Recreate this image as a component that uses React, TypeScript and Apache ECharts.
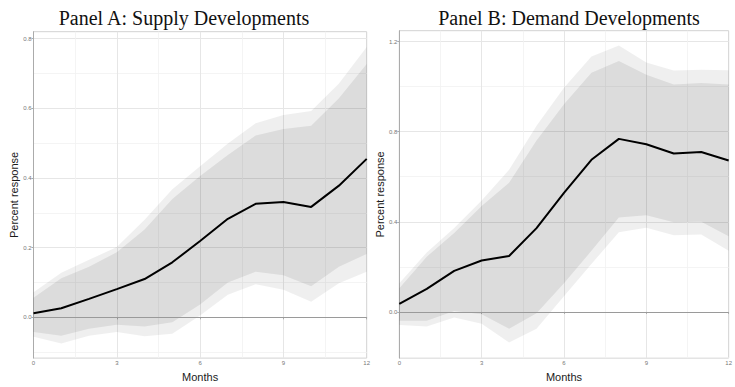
import React, { useEffect, useRef } from "react";
import * as echarts from "echarts";

// Horizon in months
const months = [0, 1, 2, 3, 4, 5, 6, 7, 8, 9, 10, 11, 12];

// Panel A: impulse response to supply developments, with 68% and 90% bands
const supplyIrf = [0.012, 0.026, 0.053, 0.081, 0.11, 0.158, 0.219, 0.283, 0.326, 0.331, 0.317, 0.378, 0.455];
const supplyUpper90 = [0.072, 0.128, 0.165, 0.202, 0.28, 0.368, 0.434, 0.499, 0.557, 0.581, 0.592, 0.671, 0.776];
const supplyUpper68 = [0.056, 0.112, 0.145, 0.187, 0.252, 0.34, 0.406, 0.466, 0.522, 0.541, 0.55, 0.629, 0.727];
const supplyLower68 = [-0.042, -0.053, -0.033, -0.021, -0.026, -0.014, 0.037, 0.1, 0.131, 0.121, 0.089, 0.145, 0.182];
const supplyLower90 = [-0.056, -0.075, -0.053, -0.042, -0.054, -0.047, 0.005, 0.065, 0.095, 0.079, 0.045, 0.098, 0.131];

// Panel B: impulse response to demand developments, with 68% and 90% bands
const demandIrf = [0.036, 0.102, 0.182, 0.228, 0.248, 0.372, 0.528, 0.675, 0.768, 0.744, 0.703, 0.71, 0.672];
const demandUpper90 = [0.127, 0.264, 0.372, 0.494, 0.631, 0.826, 0.995, 1.133, 1.182, 1.107, 1.071, 1.075, 1.072];
const demandUpper68 = [0.105, 0.245, 0.35, 0.47, 0.573, 0.761, 0.922, 1.061, 1.114, 1.052, 1.009, 1.016, 1.009];
const demandLower68 = [-0.039, -0.039, 0.004, -0.01, -0.075, -0.006, 0.127, 0.271, 0.419, 0.429, 0.398, 0.4, 0.336];
const demandLower90 = [-0.058, -0.065, -0.025, -0.053, -0.136, -0.075, 0.069, 0.213, 0.353, 0.374, 0.34, 0.343, 0.271];

// Axis ticks and grid lines
const monthTicks = [0, 3, 6, 9, 12];
const monthMinorGrid = [1.5, 4.5, 7.5, 10.5];
const supplyTicks = [0, 0.2, 0.4, 0.6, 0.8];
const supplyMinorGrid = [-0.1, 0.1, 0.3, 0.5, 0.7];
const demandTicks = [0, 0.4, 0.8, 1.2];
const demandMinorGrid = [-0.2, 0.2, 0.6, 1.0];

const SANS = "Liberation Sans, Arial, sans-serif";
const SERIF = "Liberation Serif, Times New Roman, serif";

function bandSeries(idx: number, upper: number[], lower: number[], fill: string, z: number) {
  return {
    type: "custom",
    xAxisIndex: idx,
    yAxisIndex: idx,
    z,
    silent: true,
    clip: true,
    data: [[0, 0]],
    renderItem: (_params: any, api: any) => {
      const pts: number[][] = [];
      months.forEach((m, i) => pts.push(api.coord([m, upper[i]])));
      for (let i = months.length - 1; i >= 0; i--) pts.push(api.coord([months[i], lower[i]]));
      return { type: "polygon", shape: { points: pts }, style: { fill } };
    },
  };
}

function gridSeries(idx: number, majorY: number[], minorY: number[]) {
  const major = { color: "#e6e6e6", width: 1, type: "solid" };
  const minor = { color: "#f1f1f1", width: 0.8, type: "solid" };
  const data: any[] = [];
  majorY.filter((v) => v !== 0).forEach((v) => data.push({ yAxis: v, lineStyle: major }));
  minorY.forEach((v) => data.push({ yAxis: v, lineStyle: minor }));
  monthTicks.filter((v) => v !== 0 && v !== 12).forEach((v) => data.push({ xAxis: v, lineStyle: major }));
  monthMinorGrid.forEach((v) => data.push({ xAxis: v, lineStyle: minor }));
  return {
    type: "line",
    xAxisIndex: idx,
    yAxisIndex: idx,
    z: 0,
    silent: true,
    data: [],
    markLine: {
      z: 0,
      silent: true,
      symbol: ["none", "none"],
      label: { show: false },
      animation: false,
      data,
    },
  };
}

function zeroSeries(idx: number) {
  return {
    type: "line",
    xAxisIndex: idx,
    yAxisIndex: idx,
    z: 3,
    silent: true,
    data: [],
    markLine: {
      z: 3,
      silent: true,
      symbol: ["none", "none"],
      label: { show: false },
      animation: false,
      lineStyle: { color: "#9a9a9a", width: 1, type: "solid" },
      data: [{ yAxis: 0 }],
    },
  };
}

function irfSeries(idx: number, values: number[]) {
  return {
    type: "line",
    xAxisIndex: idx,
    yAxisIndex: idx,
    z: 10,
    silent: true,
    showSymbol: false,
    data: months.map((m, i) => [m, values[i]]),
    lineStyle: { color: "#000", width: 2 },
    itemStyle: { color: "#000" },
  };
}

function xAxis(idx: number) {
  return {
    type: "value",
    gridIndex: idx,
    min: 0,
    max: 12,
    interval: 3,
    name: "Months",
    nameLocation: "middle",
    nameGap: 10,
    nameTextStyle: { fontSize: 11, fontFamily: SANS, color: "#1a1a1a" },
    axisLine: { show: true, lineStyle: { color: "#ababab", width: 1 } },
    axisTick: { show: true, length: 2, lineStyle: { color: "#ababab" } },
    axisLabel: { fontSize: 6, color: "#777", fontFamily: SANS, margin: 2 },
    splitLine: { show: false },
  };
}

function yAxis(idx: number, min: number, max: number, ticks: number[]) {
  return {
    type: "value",
    gridIndex: idx,
    min,
    max,
    name: "Percent response",
    nameLocation: "middle",
    nameGap: 14,
    nameTextStyle: { fontSize: 11, fontFamily: SANS, color: "#1a1a1a" },
    axisLine: { show: true, onZero: false, lineStyle: { color: "#ababab", width: 1 } },
    axisTick: { show: true, length: 2, lineStyle: { color: "#ababab" }, customValues: ticks },
    axisLabel: {
      fontSize: 6,
      color: "#777",
      fontFamily: SANS,
      margin: 2,
      customValues: ticks,
      formatter: (v: number) => v.toFixed(1),
    },
    splitLine: { show: false },
  };
}

export default function App() {
  const ref = useRef<HTMLDivElement>(null);

  useEffect(() => {
    if (!ref.current) return;
    const chart = echarts.init(ref.current, null, { renderer: "svg" });
    const light = "rgba(0,0,0,0.063)";
    const dark = "rgba(0,0,0,0.08)";
    chart.setOption({
      animation: false,
      backgroundColor: "#fff",
      grid: [
        { left: 33.5, right: 368.3, top: 31.7, bottom: 20.3, show: true, borderColor: "#d2d2d2", borderWidth: 1 },
        { left: 399.3, right: 3.3, top: 30.7, bottom: 20.3, show: true, borderColor: "#d2d2d2", borderWidth: 1 },
      ],
      xAxis: [xAxis(0), xAxis(1)],
      yAxis: [yAxis(0, -0.117, 0.82, supplyTicks), yAxis(1, -0.205, 1.248, demandTicks)],
      graphic: [
        {
          type: "text",
          x: 184,
          y: 18,
          style: {
            text: "Panel A: Supply Developments",
            fontSize: 20,
            fontFamily: SERIF,
            fill: "#111",
            align: "center",
            verticalAlign: "middle",
          },
        },
        {
          type: "text",
          x: 569,
          y: 18,
          style: {
            text: "Panel B: Demand Developments",
            fontSize: 20,
            fontFamily: SERIF,
            fill: "#111",
            align: "center",
            verticalAlign: "middle",
          },
        },
      ],
      series: [
        gridSeries(0, supplyTicks, supplyMinorGrid),
        bandSeries(0, supplyUpper90, supplyLower90, light, 1),
        bandSeries(0, supplyUpper68, supplyLower68, dark, 2),
        zeroSeries(0),
        irfSeries(0, supplyIrf),
        gridSeries(1, demandTicks, demandMinorGrid),
        bandSeries(1, demandUpper90, demandLower90, light, 1),
        bandSeries(1, demandUpper68, demandLower68, dark, 2),
        zeroSeries(1),
        irfSeries(1, demandIrf),
      ],
    });
    return () => chart.dispose();
  }, []);

  return (
    <div
      ref={ref}
      style={{ position: "fixed", left: 0, top: 0, width: 735, height: 387, background: "#fff" }}
    />
  );
}
